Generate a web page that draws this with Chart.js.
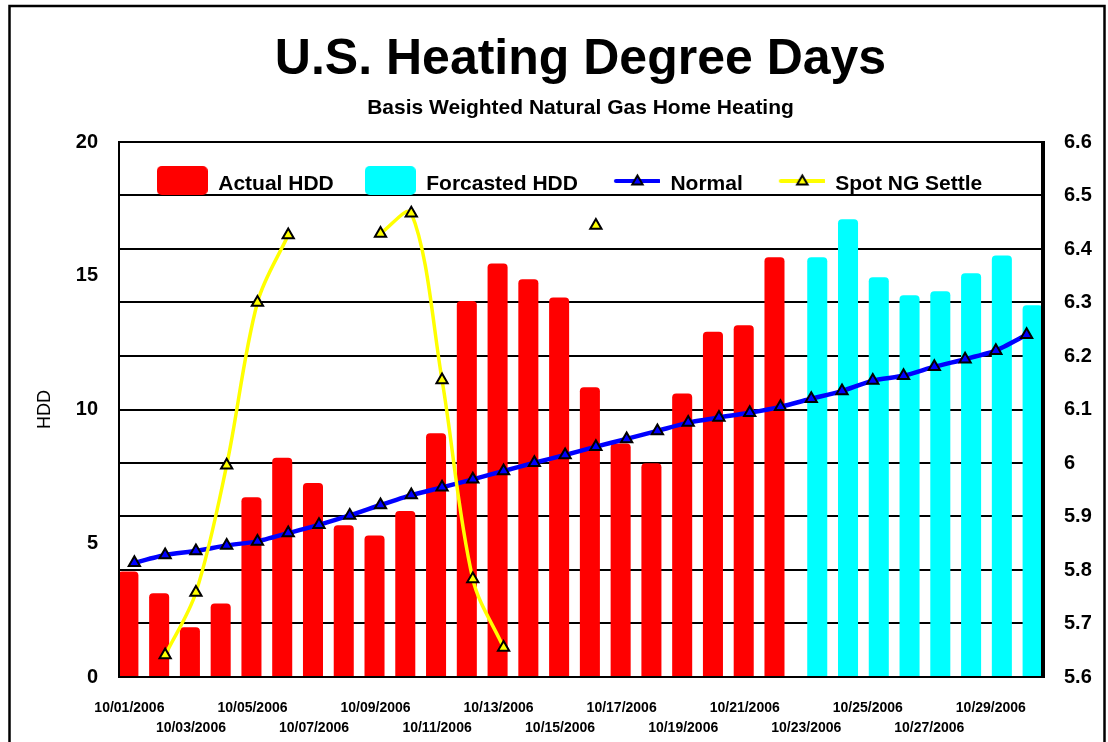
<!DOCTYPE html>
<html>
<head>
<meta charset="utf-8">
<title>U.S. Heating Degree Days</title>
<script src="https://cdn.jsdelivr.net/npm/chart.js@4.4.0/dist/chart.umd.min.js"></script>
<style>
  html, body { margin: 0; padding: 0; background: #fff; }
  #wrap { width: 1108px; height: 742px; }
</style>
</head>
<body>
<div id="wrap"><canvas id="hddChart" width="1108" height="742"></canvas></div>
<script>
// categories
const days = [
  "10/01/2006", "10/02/2006", "10/03/2006", "10/04/2006", "10/05/2006",
  "10/06/2006", "10/07/2006", "10/08/2006", "10/09/2006", "10/10/2006",
  "10/11/2006", "10/12/2006", "10/13/2006", "10/14/2006", "10/15/2006",
  "10/16/2006", "10/17/2006", "10/18/2006", "10/19/2006", "10/20/2006",
  "10/21/2006", "10/22/2006", "10/23/2006", "10/24/2006", "10/25/2006",
  "10/26/2006", "10/27/2006", "10/28/2006", "10/29/2006", "10/30/2006"
];

// HDD (left axis)
const actualHdd = [
  3.94, 3.13, 1.86, 2.75, 6.72, 8.20, 7.25, 5.67, 5.29, 6.21,
  9.11, 14.06, 15.46, 14.87, 14.19, 10.83, 8.73, 7.99, 10.60, 12.91,
  13.15, 15.69, null, null, null, null, null, null, null, null
];
const forecastHdd = [
  null, null, null, null, null, null, null, null, null, null,
  null, null, null, null, null, null, null, null, null, null,
  null, null, 15.69, 17.11, 14.94, 14.27, 14.42, 15.09, 15.76, 13.90
];
const normalHdd = [
  4.27, 4.56, 4.71, 4.92, 5.07, 5.38, 5.69, 6.04, 6.43, 6.80,
  7.09, 7.39, 7.70, 8.01, 8.30, 8.61, 8.90, 9.20, 9.51, 9.70,
  9.88, 10.10, 10.40, 10.69, 11.08, 11.26, 11.60, 11.88, 12.20, 12.79
];

// spot price (right axis), gaps where no settle
const spotSettle = [
  null, 5.641, 5.758, 5.996, 6.300, 6.426, null, null, 6.429, 6.467,
  6.155, 5.783, 5.655, null, null, 6.444, null, null, null, null,
  null, null, null, null, null, null, null, null, null, null
];

const FONT = 'Arial, "Liberation Sans", sans-serif';
Chart.defaults.font.family = FONT;
Chart.defaults.color = '#000';

// legend icons
function boxIcon(color) {
  const c = document.createElement('canvas');
  c.width = 51; c.height = 37;
  const g = c.getContext('2d');
  g.fillStyle = color;
  g.beginPath();
  g.roundRect(0, 0, 51, 29, 5);
  g.fill();
  return c;
}
function lineIcon(color) {
  const c = document.createElement('canvas');
  c.width = 51; c.height = 37;
  const g = c.getContext('2d');
  g.strokeStyle = color;
  g.lineWidth = 4;
  g.lineCap = 'round';
  g.beginPath();
  g.moveTo(7, 15); g.lineTo(50, 15);
  g.stroke();
  const r = 6, x = 28.5, y = 15.5;
  g.beginPath();
  g.moveTo(x, y - r);
  g.lineTo(x + r * 0.866, y + r / 2);
  g.lineTo(x - r * 0.866, y + r / 2);
  g.closePath();
  g.fillStyle = color;
  g.fill();
  g.strokeStyle = '#000';
  g.lineWidth = 2;
  g.stroke();
  return c;
}

const framePlugin = {
  id: 'frame',
  beforeDraw(chart) {
    const ctx = chart.ctx;
    ctx.save();
    ctx.fillStyle = '#fff';
    ctx.fillRect(0, 0, chart.width, chart.height);
    ctx.strokeStyle = '#000';
    ctx.lineWidth = 2.5;
    ctx.strokeRect(9.5, 6, 1095, 800);
    ctx.restore();
  },
  afterDatasetsDraw(chart) {
    const { left, top, right, bottom } = chart.chartArea;
    const ctx = chart.ctx;
    ctx.save();
    ctx.strokeStyle = '#000';
    ctx.lineWidth = 2;
    ctx.strokeRect(left, top, right - left, bottom - top);
    ctx.lineWidth = 4;
    ctx.beginPath();
    ctx.moveTo(right + 1, top - 1);
    ctx.lineTo(right + 1, bottom + 1);
    ctx.stroke();
    ctx.restore();
  }
};

// put the legend inside the top of the plot area
const legendInside = {
  id: 'legendInside',
  afterLayout(chart) {
    const lg = chart.legend;
    const a = chart.chartArea;
    lg.top = a.top + 1;
    lg.height = 60;
    lg.bottom = lg.top + 60;
    lg.left = a.left - 11;
    lg.right = a.right - 11;
    lg.width = lg.right - lg.left;
  }
};

const legendIcons = [boxIcon('#ff0000'), boxIcon('#00ffff'), lineIcon('#0000ff'), lineIcon('#ffff00')];

new Chart(document.getElementById('hddChart'), {
  type: 'bar',
  data: {
    labels: days,
    datasets: [
      {
        label: 'Actual HDD',
        data: actualHdd,
        backgroundColor: '#ff0000',
        yAxisID: 'y',
        order: 2,
        categoryPercentage: 0.78,
        barPercentage: 1.67,
        borderRadius: { topLeft: 4, topRight: 4, bottomLeft: 0, bottomRight: 0 },
        borderSkipped: 'start'
      },
      {
        label: 'Forcasted HDD',
        data: forecastHdd,
        backgroundColor: '#00ffff',
        yAxisID: 'y',
        order: 3,
        categoryPercentage: 0.78,
        barPercentage: 1.67,
        borderRadius: { topLeft: 4, topRight: 4, bottomLeft: 0, bottomRight: 0 },
        borderSkipped: 'start'
      },
      {
        type: 'line',
        label: 'Normal',
        data: normalHdd,
        yAxisID: 'y',
        order: 1,
        borderColor: '#0000ff',
        borderWidth: 4.5,
        tension: 0.2,
        pointStyle: 'triangle',
        pointRadius: 6.5,
        pointBackgroundColor: '#0000ff',
        pointBorderColor: '#000',
        pointBorderWidth: 2
      },
      {
        type: 'line',
        label: 'Spot NG Settle',
        data: spotSettle,
        yAxisID: 'y1',
        order: 0,
        borderColor: '#ffff00',
        borderWidth: 3.5,
        tension: 0.33,
        spanGaps: false,
        pointStyle: 'triangle',
        pointRadius: 6.5,
        pointBackgroundColor: '#ffff00',
        pointBorderColor: '#000',
        pointBorderWidth: 2
      }
    ]
  },
  options: {
    responsive: false,
    animation: false,
    layout: { padding: 0 },
    plugins: {
      title: {
        display: true,
        text: 'U.S. Heating Degree Days',
        fullSize: false,
        font: { size: 50, weight: 'bold', family: FONT },
        color: '#000',
        padding: { top: 30, bottom: 0 }
      },
      subtitle: {
        display: true,
        text: 'Basis Weighted Natural Gas Home Heating',
        fullSize: false,
        font: { size: 21, weight: 'bold', family: FONT },
        color: '#000',
        padding: { top: 5.4, bottom: 20.4 }
      },
      legend: {
        display: true,
        position: 'top',
        maxHeight: 1,
        labels: {
          usePointStyle: true,
          pointStyleWidth: 51,
          padding: 31,
          color: '#000',
          font: { size: 21, weight: 'bold', family: FONT },
          generateLabels(chart) {
            return chart.data.datasets.map((ds, i) => ({
              text: ds.label,
              datasetIndex: i,
              pointStyle: legendIcons[i],
              fillStyle: 'transparent',
              strokeStyle: 'transparent',
              lineWidth: 0,
              fontColor: '#000',
              hidden: false
            }));
          }
        }
      },
      tooltip: { enabled: false }
    },
    scales: {
      x: {
        offset: true,
        grid: { display: false, drawTicks: false },
        border: { display: false },
        ticks: {
          autoSkip: false,
          maxRotation: 0,
          minRotation: 0,
          padding: 21.7,
          labelOffset: -5,
          color: '#000',
          font: { size: 14, weight: 'bold', family: FONT, lineHeight: 1.4 },
          callback(value, index) {
            if (index % 4 === 0) return days[index];
            if (index % 4 === 2) return ['', days[index]];
            return '';
          }
        },
        afterFit(scale) { scale.height = 65; }
      },
      y: {
        position: 'left',
        min: 0,
        max: 20,
        grid: { display: false, drawTicks: false },
        border: { display: false },
        ticks: {
          stepSize: 5,
          padding: 21,
          color: '#000',
          font: { size: 20, weight: 'bold', family: FONT }
        },
        title: {
          display: true,
          text: 'HDD',
          color: '#000',
          font: { size: 18, family: FONT },
          padding: { top: 34, bottom: 0 }
        },
        afterFit(scale) { scale.width = 119; }
      },
      y1: {
        position: 'right',
        min: 5.6,
        max: 6.6,
        grid: { display: true, color: '#000', lineWidth: 2, drawTicks: false },
        border: { display: false },
        ticks: {
          stepSize: 0.1,
          padding: 22,
          color: '#000',
          font: { size: 20, weight: 'bold', family: FONT },
          callback(value) { return String(+value.toFixed(1)); }
        },
        afterFit(scale) { scale.width = 66; }
      }
    }
  },
  plugins: [framePlugin, legendInside]
});
</script>
</body>
</html>
